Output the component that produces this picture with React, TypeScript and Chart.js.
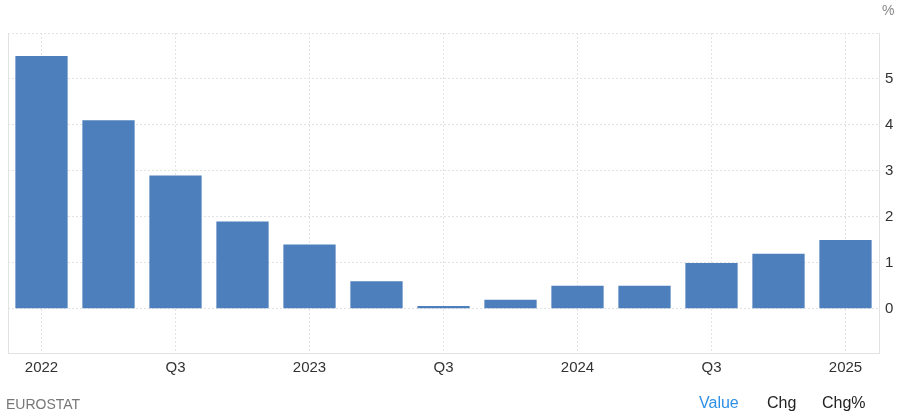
import React, { useEffect, useRef } from "react";
import { Chart, registerables } from "chart.js";

Chart.register(...registerables);

const categories = [
  "2022 Q1", "2022 Q2", "2022 Q3", "2022 Q4",
  "2023 Q1", "2023 Q2", "2023 Q3", "2023 Q4",
  "2024 Q1", "2024 Q2", "2024 Q3", "2024 Q4",
  "2025 Q1",
];
const tickLabels = ["2022", "", "Q3", "", "2023", "", "Q3", "", "2024", "", "Q3", "", "2025"];
const values = [5.5, 4.1, 2.9, 1.9, 1.4, 0.6, 0.06, 0.2, 0.5, 0.5, 1.0, 1.2, 1.5];
const yTicks = [0, 1, 2, 3, 4, 5, 6];

const FONT = "'Liberation Sans', Arial, sans-serif";

export default function App() {
  const ref = useRef<HTMLCanvasElement>(null);
  useEffect(() => {
    document.body.style.margin = "0";
    const leftBorder = {
      id: "leftBorder",
      afterDraw(chart: any) {
        const { ctx, chartArea } = chart;
        ctx.save();
        ctx.strokeStyle = "#e2e2e2";
        ctx.lineWidth = 1;
        ctx.beginPath();
        ctx.moveTo(Math.round(chartArea.left) + 0.5, chartArea.top);
        ctx.lineTo(Math.round(chartArea.left) + 0.5, chartArea.bottom);
        ctx.stroke();
        ctx.restore();
      },
    };
    const chart = new Chart(ref.current!, {
      type: "bar",
      data: {
        labels: categories,
        datasets: [
          {
            data: values,
            backgroundColor: "#4c7fbb",
            borderWidth: 0,
            barPercentage: 1,
            categoryPercentage: 0.78,
          },
        ],
      },
      options: {
        animation: false,
        responsive: false,
        maintainAspectRatio: false,
        layout: { padding: { left: 8, top: 33, right: 0, bottom: 0 } },
        plugins: { legend: { display: false }, tooltip: { enabled: false } },
        scales: {
          x: {
            offset: true,
            grid: {
              offset: false,
              drawTicks: false,
              color: (c: any) => (c.index % 2 === 0 ? "#e2e2e2" : "rgba(0,0,0,0)"),
            },
            border: { display: true, color: "#e2e2e2", dash: [2, 2] },
            ticks: {
              autoSkip: false,
              maxRotation: 0,
              padding: 6,
              color: "#333",
              font: { family: FONT, size: 15 },
              callback: (_v: any, i: number) => tickLabels[i],
            },
            afterFit: (s: any) => {
              s.height = 65;
            },
          },
          y: {
            position: "right",
            min: -0.96,
            max: 6,
            afterBuildTicks: (s: any) => {
              s.ticks = yTicks.map((v) => ({ value: v }));
            },
            grid: {
              drawTicks: false,
              color: "#e2e2e2",
            },
            border: { display: true, color: "#e2e2e2", dash: [2, 2] },
            ticks: {
              padding: 6,
              color: "#333",
              font: { family: FONT, size: 15 },
              callback: (v: any) => (v === 6 ? "" : String(v)),
            },
            afterFit: (s: any) => {
              s.width = 21;
            },
          },
        },
      },
      plugins: [leftBorder],
    } as any);
    return () => chart.destroy();
  }, []);

  const textBase: React.CSSProperties = { position: "absolute", fontFamily: FONT, whiteSpace: "nowrap" };
  return (
    <div style={{ position: "relative", width: 900, height: 418, background: "#fff", overflow: "hidden" }}>
      <canvas ref={ref} width={900} height={418} style={{ position: "absolute", left: 0, top: 0 }} />
      <div style={{ ...textBase, left: 882, top: 2, fontSize: 14, color: "#888" }}>%</div>
      <div style={{ ...textBase, left: 6, top: 396, fontSize: 14, color: "#777" }}>EUROSTAT</div>
      <div style={{ ...textBase, left: 699, top: 394, fontSize: 16, color: "#2f8fe6" }}>Value</div>
      <div style={{ ...textBase, left: 767, top: 394, fontSize: 16, color: "#222" }}>Chg</div>
      <div style={{ ...textBase, left: 822, top: 394, fontSize: 16, color: "#222" }}>Chg%</div>
    </div>
  );
}
